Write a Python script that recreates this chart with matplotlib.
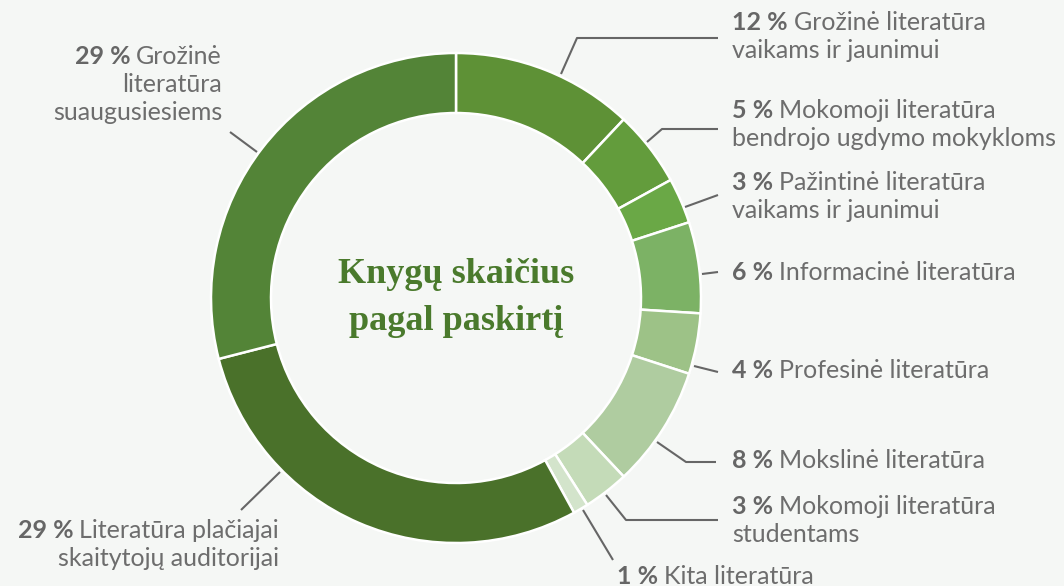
import numpy as np
import matplotlib
matplotlib.use("Agg")
import matplotlib.pyplot as plt

# data
shares = [12, 5, 3, 6, 4, 8, 3, 1, 29, 29]
pct_labels = ["12 %", "5 %", "3 %", "6 %", "4 %", "8 %", "3 %", "1 %", "29 %", "29 %"]
names = [
    "Grožinė literatūra\nvaikams ir jaunimui",
    "Mokomoji literatūra\nbendrojo ugdymo mokykloms",
    "Pažintinė literatūra\nvaikams ir jaunimui",
    "Informacinė literatūra",
    "Profesinė literatūra",
    "Mokslinė literatūra",
    "Mokomoji literatūra\nstudentams",
    "Kita literatūra",
    "Literatūra plačiajai\nskaitytojų auditorijai",
    "Grožinė\nliteratūra\nsuaugusiesiems",
]
colors = ["#5e9136", "#639c3c", "#6aa846", "#7cb265", "#9dc287", "#afcca0",
          "#c4dbb8", "#d3e4cb", "#4a712a", "#538437"]

W, H = 1064, 586
BG = "#f5f7f5"
GRAY = "#6d6d6d"
CX, CY, R, RING = 456, 298, 245, 60   # pixel layout, y from top

# leader layout in pixels from top-left:
# (start on ring, elbow or None, line end, text x, text y, align)
layout = [
    ((561, 74), (577, 38), (718, 38), 732, 37, "left"),
    ((647, 142), (662, 129), (718, 129), 732, 124, "left"),
    ((685, 207), None, (718, 195), 732, 197, "left"),
    ((702, 274), None, (718, 272), 732, 272, "left"),
    ((694, 366), None, (718, 372), 732, 371, "left"),
    ((657, 442), (686, 462), (716, 462), 732, 460, "left"),
    ((606, 495), (626, 520), (718, 520), 732, 521, "left"),
    ((583, 510), None, (613, 560), 617, 577, "left"),
    ((280, 472), None, (241, 510), 279, 545, "right"),
    ((257, 152), None, (230, 132), 222, 84, "right"),
]

plt.rcParams['font.family'] = ['Lato', 'DejaVu Sans']

fig = plt.figure(figsize=(W / 100, H / 100), dpi=100, facecolor=BG)
ax = fig.add_axes([0, 0, 1, 1])

def fy(y):
    return H - y

wedges, _ = ax.pie(shares, colors=colors, startangle=90, counterclock=False,
                   radius=R, center=(CX, fy(CY)), frame=True,
                   wedgeprops=dict(width=RING, edgecolor="white", linewidth=1.8))
ax.set_xlim(0, W)
ax.set_ylim(0, H)
ax.set_aspect("equal")
ax.axis("off")

ax.text(CX, fy(CY), "Knygų skaičius\npagal paskirtį", ha="center", va="center",
        fontsize=26, fontweight="bold", color="#4a7a2c", linespacing=1.55,
        family=["Liberation Serif", "DejaVu Serif"])

renderer = fig.canvas.get_renderer()
FS = 18
LS = 1.12
step = FS * LS * 100 / 72
for i, (start, elbow, end, tx, ty, ha) in enumerate(layout):
    pts = [start] + ([elbow] if elbow else []) + [end]
    ax.plot([p[0] for p in pts], [fy(p[1]) for p in pts], color="#666666", lw=1.5,
            solid_capstyle="butt")

    lines = names[i].split("\n")
    n = len(lines)
    y_first = ty - (n - 1) * step / 2
    for k, line in enumerate(lines):
        yy = fy(y_first + k * step)
        if k == 0:
            if ha == "left":
                b = ax.text(tx, yy, pct_labels[i], ha="left", va="center",
                            fontsize=FS, fontweight="bold", color="#666666")
                bw = b.get_window_extent(renderer).width
                ax.text(tx + bw + 6, yy, line, ha="left", va="center",
                        fontsize=FS, color=GRAY)
            else:
                t = ax.text(tx, yy, line, ha="right", va="center",
                            fontsize=FS, color=GRAY)
                tw = t.get_window_extent(renderer).width
                ax.text(tx - tw - 6, yy, pct_labels[i], ha="right", va="center",
                        fontsize=FS, fontweight="bold", color="#666666")
        else:
            ax.text(tx, yy, line, ha=ha, va="center", fontsize=FS, color=GRAY)

fig.savefig("out.png", dpi=100, facecolor=BG)
